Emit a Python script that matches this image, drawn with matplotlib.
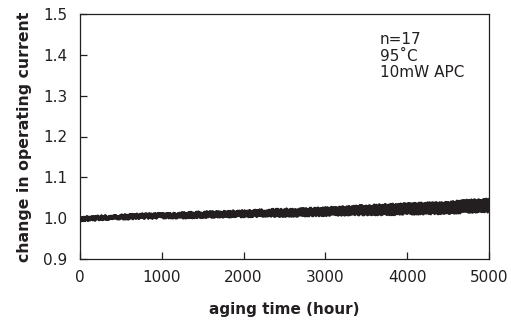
import matplotlib
matplotlib.use("Agg")
import matplotlib.pyplot as plt

plt.rcParams['font.family'] = ['DejaVu Sans']

hours = [0, 250, 500, 750, 1000, 1250, 1500, 1750, 2000, 2250, 2500,
         2750, 3000, 3250, 3500, 3750, 4000, 4250, 4500, 4750, 5000]

u01 = [0.996, 0.998, 0.999, 1.001, 1.002, 1.002, 1.003, 1.004, 1.005, 1.006, 1.006, 1.007, 1.008, 1.009, 1.010, 1.010, 1.011, 1.012, 1.013, 1.016, 1.017]
u02 = [1.001, 1.004, 1.006, 1.009, 1.010, 1.012, 1.014, 1.015, 1.017, 1.019, 1.021, 1.022, 1.024, 1.027, 1.030, 1.032, 1.034, 1.036, 1.038, 1.043, 1.045]
u03 = [0.998, 1.001, 1.003, 1.005, 1.006, 1.007, 1.009, 1.010, 1.011, 1.013, 1.014, 1.016, 1.017, 1.019, 1.021, 1.022, 1.024, 1.026, 1.027, 1.031, 1.032]
u04 = [0.997, 1.000, 1.002, 1.004, 1.005, 1.006, 1.007, 1.008, 1.009, 1.010, 1.011, 1.012, 1.013, 1.015, 1.016, 1.017, 1.018, 1.019, 1.021, 1.024, 1.025]
u05 = [0.999, 1.002, 1.005, 1.007, 1.008, 1.010, 1.011, 1.013, 1.014, 1.016, 1.017, 1.019, 1.020, 1.023, 1.025, 1.027, 1.029, 1.031, 1.033, 1.037, 1.038]
u06 = [0.995, 0.998, 1.000, 1.002, 1.003, 1.004, 1.005, 1.006, 1.007, 1.008, 1.009, 1.010, 1.011, 1.012, 1.013, 1.014, 1.016, 1.017, 1.018, 1.021, 1.022]
u07 = [1.000, 1.003, 1.005, 1.007, 1.009, 1.011, 1.012, 1.014, 1.016, 1.017, 1.019, 1.020, 1.022, 1.024, 1.027, 1.029, 1.031, 1.033, 1.035, 1.039, 1.041]
u08 = [0.998, 1.001, 1.004, 1.006, 1.007, 1.008, 1.010, 1.011, 1.012, 1.014, 1.015, 1.017, 1.018, 1.020, 1.022, 1.024, 1.026, 1.027, 1.029, 1.033, 1.035]
u09 = [0.997, 0.999, 1.002, 1.003, 1.004, 1.006, 1.007, 1.008, 1.010, 1.011, 1.012, 1.013, 1.015, 1.016, 1.018, 1.019, 1.021, 1.022, 1.024, 1.027, 1.029]
u10 = [0.999, 1.002, 1.004, 1.006, 1.008, 1.009, 1.011, 1.012, 1.013, 1.015, 1.016, 1.018, 1.019, 1.021, 1.023, 1.025, 1.027, 1.028, 1.030, 1.034, 1.036]
u11 = [0.996, 0.999, 1.001, 1.003, 1.004, 1.005, 1.006, 1.008, 1.009, 1.010, 1.011, 1.013, 1.014, 1.016, 1.017, 1.018, 1.020, 1.021, 1.023, 1.026, 1.027]
u12 = [1.001, 1.003, 1.006, 1.008, 1.010, 1.011, 1.013, 1.015, 1.016, 1.018, 1.020, 1.021, 1.023, 1.026, 1.028, 1.031, 1.033, 1.034, 1.037, 1.041, 1.043]
u13 = [0.998, 1.000, 1.003, 1.005, 1.006, 1.008, 1.009, 1.010, 1.012, 1.013, 1.014, 1.016, 1.017, 1.019, 1.020, 1.021, 1.023, 1.024, 1.026, 1.029, 1.031]
u14 = [0.997, 1.000, 1.002, 1.004, 1.005, 1.006, 1.008, 1.009, 1.010, 1.011, 1.013, 1.014, 1.015, 1.017, 1.019, 1.020, 1.022, 1.023, 1.025, 1.028, 1.030]
u15 = [0.999, 1.001, 1.004, 1.006, 1.007, 1.009, 1.010, 1.012, 1.013, 1.014, 1.016, 1.017, 1.019, 1.021, 1.024, 1.026, 1.028, 1.030, 1.032, 1.035, 1.037]
u16 = [0.996, 0.998, 1.001, 1.002, 1.003, 1.004, 1.006, 1.007, 1.008, 1.009, 1.010, 1.011, 1.012, 1.013, 1.014, 1.015, 1.017, 1.018, 1.020, 1.023, 1.024]
u17 = [1.000, 1.002, 1.005, 1.007, 1.009, 1.010, 1.012, 1.013, 1.015, 1.016, 1.018, 1.019, 1.021, 1.023, 1.026, 1.028, 1.030, 1.032, 1.034, 1.038, 1.040]

units = [u01, u02, u03, u04, u05, u06, u07, u08, u09, u10,
         u11, u12, u13, u14, u15, u16, u17]

x_ticks = [0, 1000, 2000, 3000, 4000, 5000]
y_ticks = [0.9, 1.0, 1.1, 1.2, 1.3, 1.4, 1.5]
y_tick_labels = ["0.9", "1.0", "1.1", "1.2", "1.3", "1.4", "1.5"]
notes = ["n=17", "95\u02daC", "10mW APC"]
note_y = [1.438, 1.396, 1.356]

fig = plt.figure(figsize=(5.11, 3.25), dpi=100)
ax = fig.add_axes([0.1566, 0.203, 0.8004, 0.754])

for u in units:
    ln, = ax.plot(hours, u, color="#231f20", lw=1.8)
    ln.set_sketch_params(1.0, 2.0, 2.0)

ax.set_xlim(0, 5000)
ax.set_ylim(0.9, 1.5)
ax.set_xticks(x_ticks)
ax.set_yticks(y_ticks)
ax.set_yticklabels(y_tick_labels)
ax.tick_params(direction="in", length=5, width=0.9, labelsize=11,
               colors="#231f20", pad=9, top=False, right=False)
ax.tick_params(axis="x", pad=8)
for s in ax.spines.values():
    s.set_linewidth(0.9)
    s.set_color("#231f20")

ax.set_xlabel("aging time (hour)", fontsize=11, fontweight="bold",
              color="#231f20", labelpad=12)
ax.set_ylabel("change in operating current", fontsize=11.3, fontweight="bold",
              color="#231f20", labelpad=8)

for t, yv in zip(notes, note_y):
    ax.text(3667, yv, t, fontsize=11, color="#231f20",
            va="center", ha="left")

fig.savefig("out.png", dpi=100)
